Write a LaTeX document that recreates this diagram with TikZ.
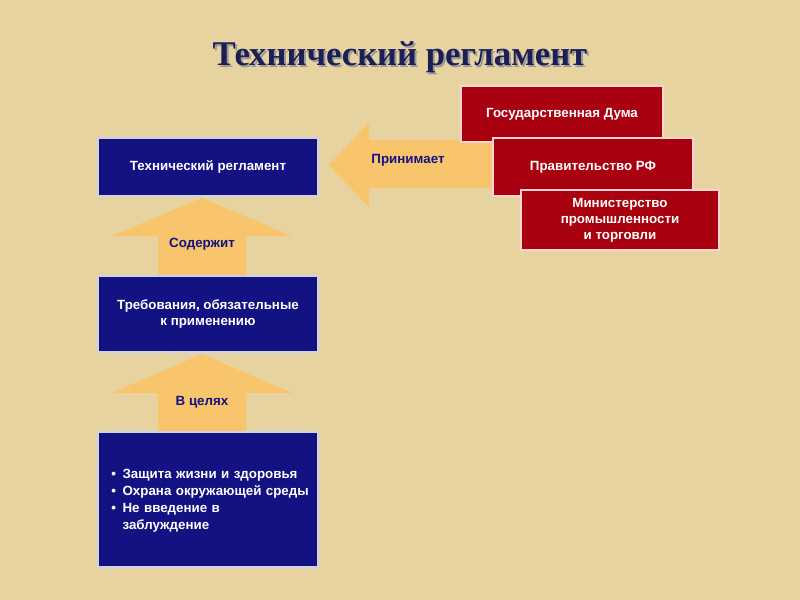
\documentclass[tikz,border=0pt]{standalone}
\usepackage{fontspec}
\setmainfont{Liberation Sans}
\newfontfamily\titlefont{Liberation Serif}
\definecolor{bg}{HTML}{E6D3A0}
\definecolor{navy}{HTML}{121283}
\definecolor{dred}{HTML}{A8000F}
\definecolor{arr}{HTML}{F8C56C}
\definecolor{ttl}{HTML}{1C1E55}
\begin{document}
\begin{tikzpicture}[x=0.75pt,y=-0.75pt,
  bluebox/.style={draw=white!80!navy,line width=1pt,fill=navy,text=white,font=\bfseries\fontsize{10}{12.5}\selectfont,align=center,inner sep=0pt},
  redbox/.style={draw=pink!70!white,line width=1pt,fill=dred,text=white,font=\bfseries\fontsize{10}{12}\selectfont,align=center,inner sep=0pt},
  arrshape/.style={fill=arr,draw=none},
  lbl/.style={text=navy,font=\bfseries\fontsize{10}{12}\selectfont}]
\fill[bg] (0,0) rectangle (800,600);
\useasboundingbox (0,0) rectangle (800,600);
\node[text=black!40,font=\titlefont\bfseries\fontsize{26}{32}\selectfont] at (402,59) {Технический регламент};
\node (title) [text=ttl,font=\titlefont\bfseries\fontsize{26}{32}\selectfont] at (400,57) {Технический регламент};
% arrows
\fill[arrshape] (158,276) -- (158,236) -- (112,236) -- (202,198) -- (292,236) -- (246,236) -- (246,276) -- cycle;
\fill[arrshape] (158,432) -- (158,393) -- (112,393) -- (202,354) -- (292,393) -- (246,393) -- (246,432) -- cycle;
\fill[arrshape] (500,140) -- (369,140) -- (369,122) -- (329,165) -- (369,207) -- (369,188) -- (500,188) -- cycle;
\node[lbl] (l1) at (202,244) {Содержит};
\node[lbl] (l2) at (202,402) {В целях};
\node[lbl] (l3) at (408,160) {Принимает};
% blue boxes
\node[bluebox,minimum width=220*0.75pt,minimum height=58*0.75pt] (b1) at (208,167) {Технический регламент};
\node[bluebox,minimum width=220*0.75pt,minimum height=76*0.75pt] (b2) at (208,314) {Требования, обязательные\\к применению};
\node[bluebox,minimum width=220*0.75pt,minimum height=135*0.75pt] (b3) at (208,499.5) {};
\node[text=white,font=\bfseries\fontsize{10}{12.8}\selectfont,anchor=north west,text width=180pt,inner sep=0pt] (b3t) at (111,466) {%
\begin{tabular}{@{}l@{\hspace{5pt}}l@{}}
•&Защита жизни и здоровья\\
•&Охрана окружающей среды\\
•&Не введение в\\
&заблуждение
\end{tabular}};
% red boxes
\node[redbox,minimum width=202*0.75pt,minimum height=56*0.75pt] (r1) at (562,114) {Государственная Дума};
\node[redbox,minimum width=200*0.75pt,minimum height=58*0.75pt] (r2) at (593,167) {Правительство РФ};
\node[redbox,minimum width=198*0.75pt,minimum height=60*0.75pt] (r3) at (620,220) {Министерство\\промышленности\\и торговли};
\end{tikzpicture}
\end{document}
